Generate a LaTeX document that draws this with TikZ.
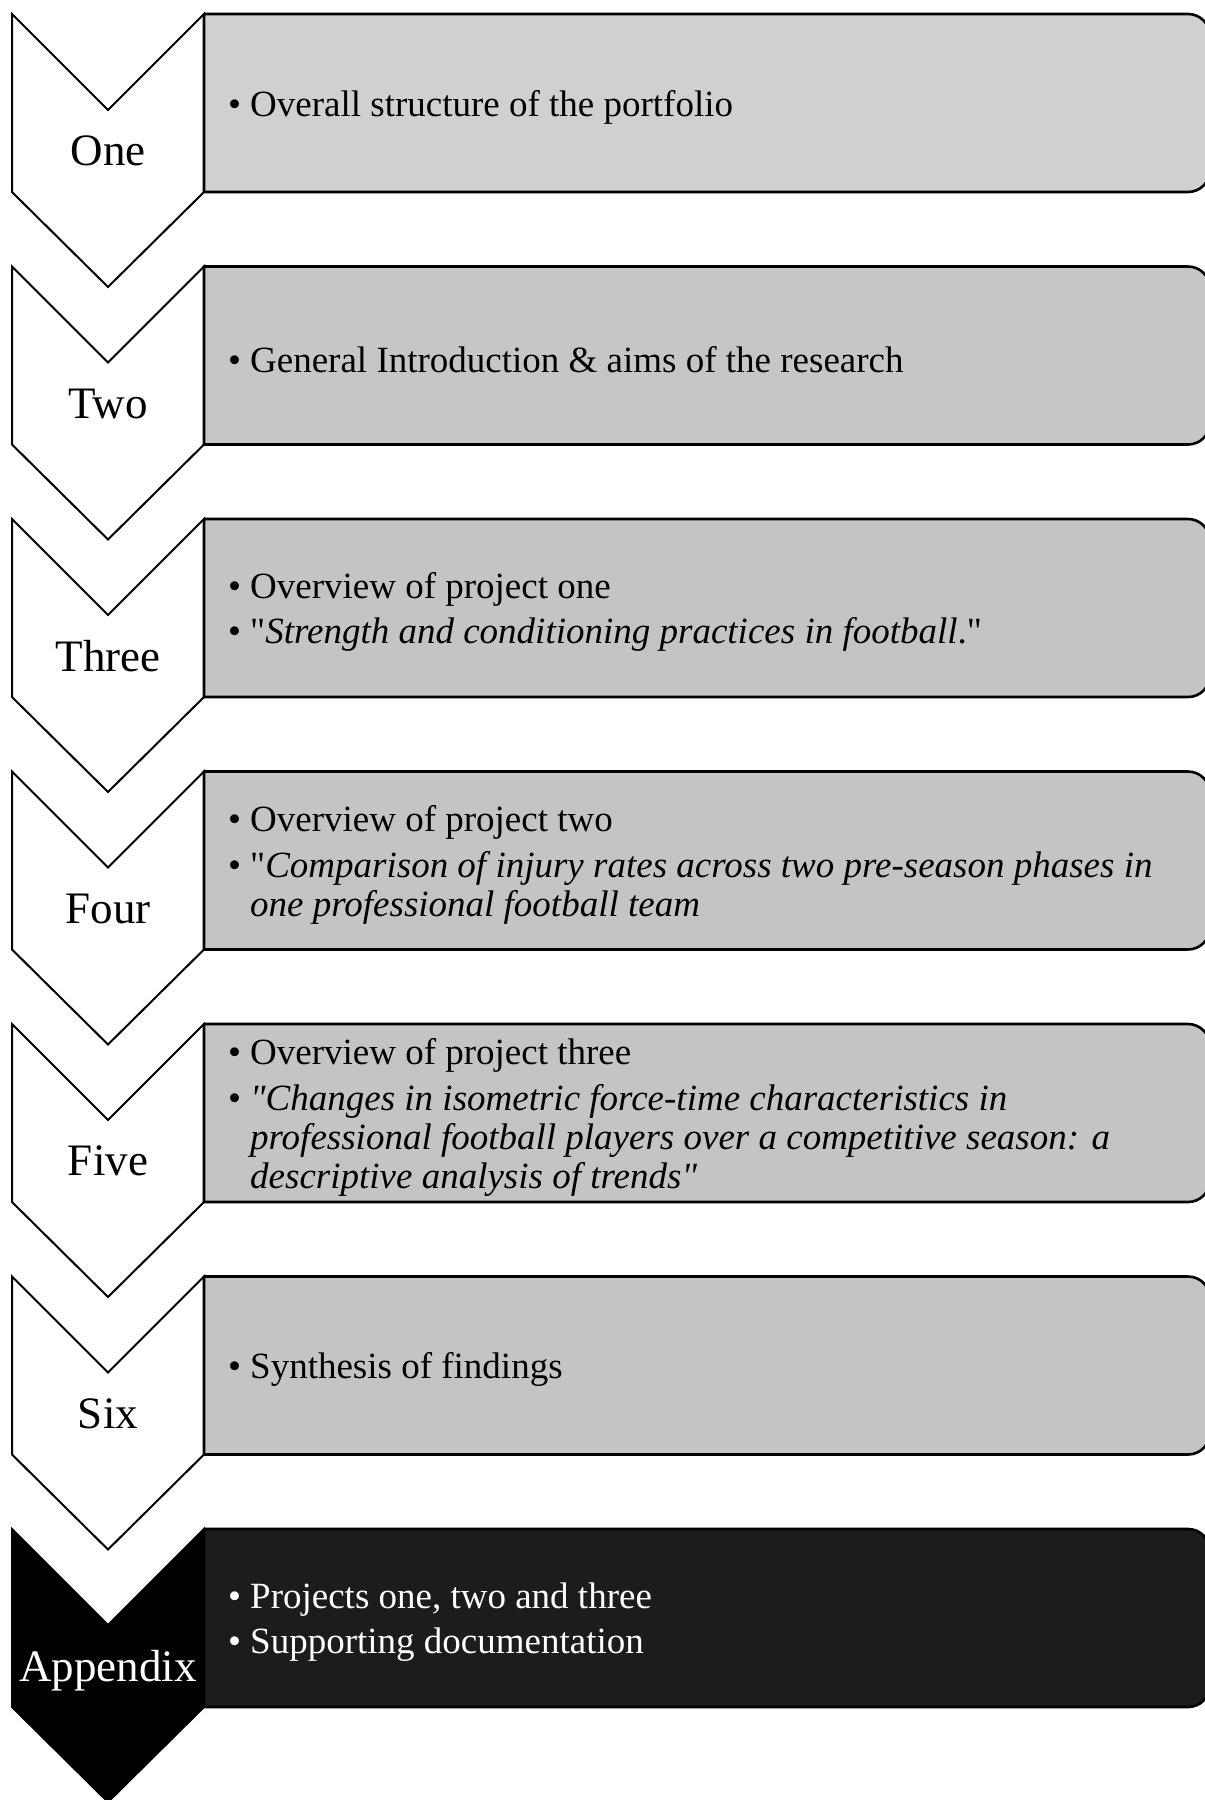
\documentclass[tikz,border=0pt]{standalone}
\usepackage{fontspec}
\setmainfont{Liberation Serif}[Ligatures=TeXOff]
\newcommand{\bitem}[1]{\makebox[22pt][l]{•}#1}
\newcommand{\cont}{\hspace*{22pt}}
\definecolor{boxA}{HTML}{D0D0D0}
\definecolor{boxB}{HTML}{C6C6C6}
\definecolor{boxC}{HTML}{C4C4C4}
\definecolor{boxD}{HTML}{1C1C1C}
\tikzset{
  chevline/.style={line width=2pt, line join=miter},
  boxline/.style={line width=2.6pt, line join=round},
  steplabel/.style={inner sep=0pt, font=\fontsize{45}{50}\selectfont},
  bodytxt/.style={inner sep=0pt, anchor=west, align=left, font=\fontsize{37}{39}\selectfont},
}
\begin{document}
\begin{tikzpicture}[x=1pt, y=-1pt]
\useasboundingbox (0,0) rectangle (1205,1800);
% chevrons and content boxes, one row per stage
\foreach \t/\bf/\cf/\cd in {14/boxA/white/black, 266.5/boxB/white/black, 519/boxC/white/black,
    771.5/boxC/white/black, 1024/boxC/white/black, 1276.5/boxC/white/black, 1529/boxD/black/black}{
  \draw[chevline, fill=\cf, draw=\cd] (12,\t) -- (108,{\t+96}) -- (204,\t) -- (204,{\t+178})
      -- (108,{\t+273}) -- (12,{\t+178}) -- cycle;
  \draw[boxline, fill=\bf] (204,\t) -- (1188,\t) arc[start angle=-90, end angle=0, radius=22]
      -- (1210,{\t+156}) arc[start angle=0, end angle=90, radius=22] -- (204,{\t+178}) -- cycle;
}
% stage labels
\node[steplabel] (l1) at (108,151) {One};
\node[steplabel] (l2) at (108,403.5) {Two};
\node[steplabel] (l3) at (108,656) {Three};
\node[steplabel] (l4) at (108,908.5) {Four};
\node[steplabel] (l5) at (108,1161) {Five};
\node[steplabel] (l6) at (108,1413.5) {Six};
\node[steplabel, text=white] (l7) at (108,1671) {Appendix};
% box contents
\node[bodytxt] (b1) at (228,107) {\bitem{Overall structure of the portfolio}};
\node[bodytxt] (b2) at (228,359.5) {\bitem{General Introduction \& aims of the research}};
\node[bodytxt] (b3) at (228,612) {\bitem{Overview of project one}\\[6.5pt]
  \bitem{"\textit{Strength and conditioning practices in football}."}};
\node[bodytxt] (b4) at (228,865) {\bitem{Overview of project two}\\[6.5pt]
  \bitem{"\textit{Comparison of injury rates across two pre-season phases in}}\\
  \cont\textit{one professional football team}};
\node[bodytxt] (b5) at (228,1117.5) {\bitem{Overview of project three}\\[6.5pt]
  \bitem{\textit{"Changes in isometric force-time characteristics in}}\\
  \cont\textit{professional football players over a competitive season: a}\\
  \cont\textit{descriptive analysis of trends"}};
\node[bodytxt] (b6) at (228,1369.5) {\bitem{Synthesis of findings}};
\node[bodytxt, text=white] (b7) at (228,1622) {\bitem{Projects one, two and three}\\[6.5pt]
  \bitem{Supporting documentation}};
\end{tikzpicture}
\end{document}
